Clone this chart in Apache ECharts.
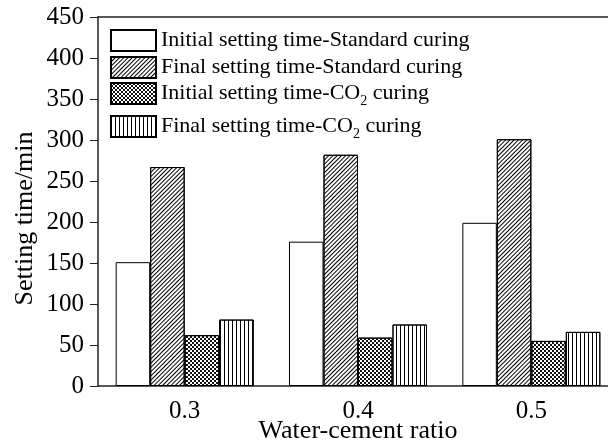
<!DOCTYPE html>
<html>
<head>
<meta charset="utf-8">
<script src="https://cdn.jsdelivr.net/npm/echarts@6/dist/echarts.min.js"></script>
<style>
  html, body { margin: 0; padding: 0; background: #fff; }
  #main { width: 608px; height: 448px; }
</style>
</head>
<body>
<div id="main"></div>
<script>
// 水灰比对凝结时间的影响
const ratios = ['0.3', '0.4', '0.5'];
const initStd = [151, 176, 199];
const finalStd = [267, 282, 301];
const initCO2 = [62, 59, 55];
const finalCO2 = [81, 75, 66];
const seriesNames = [
  'Initial setting time-Standard curing',
  'Final setting time-Standard curing',
  'Initial setting time-CO2 curing',
  'Final setting time-CO2 curing'
];
const legendTops = [24, 51, 77, 110];

const FONT = 'Liberation Serif';

// 各系列的填充图案
const styles = [
  { color: '#fff' },
  { color: '#fff', decal: { symbol: 'rect', dashArrayX: [1, 0], dashArrayY: [1, 2], rotation: -Math.PI / 4, color: '#000' } },
  { color: '#fff', decal: { symbol: 'rect', dashArrayX: [[2, 2], [0, 2, 2, 0]], dashArrayY: [2, 0], color: '#111' } },
  { color: '#fff', decal: { symbol: 'rect', dashArrayX: [1, 3], dashArrayY: [1, 0], color: '#000' } }
];

const dataList = [initStd, finalStd, initCO2, finalCO2];

// 图例文字：CO2 的 2 用下标
function legendText(name) {
  if (name.indexOf('CO2') >= 0) {
    const parts = name.split('CO2');
    return '{t|' + parts[0] + 'CO}{s|2}{t|' + parts[1] + '}';
  }
  return '{t|' + name + '}';
}

const chart = echarts.init(document.getElementById('main'));
chart.setOption({
  animation: false,
  textStyle: { fontFamily: FONT },
  grid: { left: 98, top: 17, width: 520, height: 369, outerBoundsMode: 'none', containLabel: false },
  legend: seriesNames.map((name, i) => ({
    orient: 'vertical',
    left: 105,
    top: legendTops[i],
    itemWidth: 45,
    itemHeight: 21,
    icon: 'rect',
    data: [name],
    formatter: legendText,
    textStyle: {
      fontFamily: FONT, fontSize: 22, color: '#000',
      rich: {
        t: { fontFamily: FONT, fontSize: 22, color: '#000', lineHeight: 22 },
        s: { fontFamily: FONT, fontSize: 14, color: '#000', lineHeight: 22, verticalAlign: 'bottom', padding: [0, 0, -4, 0] }
      }
    }
  })),
  xAxis: [{
    type: 'category',
    data: ratios,
    name: 'Water-cement ratio',
    nameLocation: 'middle',
    nameGap: 32,
    nameMoveOverlap: false,
    nameTextStyle: { fontFamily: FONT, fontSize: 26, color: '#000' },
    axisLine: { lineStyle: { color: '#222', width: 1.5 } },
    axisTick: { alignWithLabel: true, length: 7, lineStyle: { color: '#222' } },
    axisLabel: { fontFamily: FONT, fontSize: 25, color: '#000', margin: 13 }
  }, {
    type: 'category',
    data: ratios,
    position: 'top',
    axisLine: { lineStyle: { color: '#222', width: 1.5 } },
    axisTick: { alignWithLabel: true, length: 5, lineStyle: { color: '#222' } },
    axisLabel: { show: false }
  }],
  yAxis: {
    type: 'value',
    min: 0,
    max: 450,
    interval: 50,
    name: 'Setting time/min',
    nameLocation: 'middle',
    nameGap: 60,
    nameMoveOverlap: false,
    nameTextStyle: { fontFamily: FONT, fontSize: 26, color: '#000', padding: [0, 34, 0, 0] },
    axisLine: { show: true, lineStyle: { color: '#222', width: 1.5 } },
    axisTick: { show: true, length: 8, lineStyle: { color: '#222' } },
    axisLabel: { fontFamily: FONT, fontSize: 25, color: '#000', margin: 14 },
    splitLine: { show: false }
  },
  series: seriesNames.map((name, i) => ({
    name: name,
    type: 'bar',
    data: dataList[i],
    barWidth: 34.5,
    barGap: '0%',
    itemStyle: Object.assign({ borderColor: '#000', borderWidth: 1 }, styles[i])
  }))
});
</script>
</body>
</html>
